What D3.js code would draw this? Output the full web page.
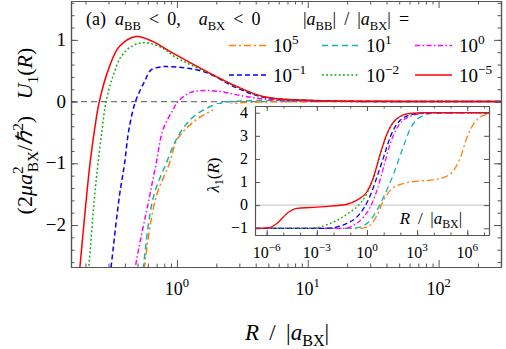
<!DOCTYPE html>
<html>
<head>
<meta charset="utf-8">
<script src="https://cdn.jsdelivr.net/npm/d3@7"></script>
<style>
  body { margin: 0; background: #fff; }
</style>
</head>
<body>
<svg id="chart" width="506" height="349"></svg>
<script>
var svg = d3.select("#chart");

// legend exponents of |a_BB| / |a_BX|, same order as the series below
var ratioExp = ["5", "1", "0", "\u22121", "\u22122", "\u22125"];

// main panel: U_1(R)
var mainR = [
  [0.54, 0.565, 0.694, 0.877, 1.0, 1.26, 1.60, 2.15, 2.88, 4.61, 10, 300],
  [0.53, 0.555, 0.662, 0.828, 1.0, 1.26, 1.60, 2.15, 3.86, 10, 300],
  [0.45, 0.482, 0.617, 0.694, 0.782, 0.932, 1.02, 1.26, 1.60, 2.15, 2.88, 4.61, 10, 20, 300],
  [0.294, 0.314, 0.363, 0.398, 0.429, 0.482, 0.565, 0.635, 0.78, 0.889, 1.60, 2.88, 4.61, 10, 20, 300],
  [0.200, 0.212, 0.2345, 0.2493, 0.2677, 0.2872, 0.3235, 0.374, 0.447, 0.565, 0.782, 0.959, 1.60, 2.88, 4.61, 10, 20, 300],
  [0.173, 0.1815, 0.2037, 0.2166, 0.2345, 0.255, 0.305, 0.363, 0.488, 0.655, 0.932, 1.60, 2.88, 4.61, 10, 20, 300]
];
var mainU = [
  [-3.2, -2.674, -1.54, -1.0, -0.62, -0.377, -0.216, -0.091, -0.026, -0.006, -0.001, 0],
  [-3.2, -2.674, -1.54, -1.0, -0.593, -0.297, -0.135, -0.026, 0.016, 0.008, 0],
  [-3.2, -2.674, -1.54, -1.0, -0.459, -0.135, 0, 0.146, 0.178, 0.162, 0.109, 0.04, 0.01, 0.003, 0],
  [-3.2, -2.674, -1.54, -1.0, -0.459, 0, 0.324, 0.514, 0.567, 0.567, 0.486, 0.22, 0.07, 0.02, 0.005, 0],
  [-3.2, -2.674, -1.54, -1.0, -0.459, 0, 0.405, 0.729, 0.891, 0.956, 0.865, 0.729, 0.50, 0.24, 0.075, 0.02, 0.005, 0],
  [-3.2, -2.674, -1.54, -1.0, -0.459, 0, 0.567, 0.891, 1.053, 0.972, 0.784, 0.514, 0.243, 0.08, 0.02, 0.005, 0]
];

// inset: lambda_1(R)
var insetR = [
  [2e-7, 0.2, 0.63, 2.0, 4.0, 10, 32, 160, 1000, 6300, 4e4, 1.6e5, 4e5, 1e6, 2.5e6, 6.3e6, 2e7],
  [2e-7, 0.126, 0.4, 1.6, 4.0, 10, 40, 126, 400, 1600, 1e4, 2e7],
  [2e-7, 0.04, 0.16, 0.63, 1.6, 4.0, 10, 25, 80, 400, 2500, 2e7],
  [2e-7, 0.004, 0.016, 0.063, 0.25, 0.63, 1.6, 4.0, 10, 25, 100, 630, 6300, 2e7],
  [2e-7, 4e-4, 1.6e-3, 6.3e-3, 0.025, 0.1, 0.32, 1, 2.5, 6.3, 16, 63, 400, 4000, 2e7],
  [2e-7, 4.1e-7, 1.3e-6, 4.1e-6, 1.6e-5, 6.5e-5, 4e-4, 6.3e-3, 0.063, 0.25, 1, 2.5, 6.3, 16, 63, 390, 3900, 2e7]
];
var insetL = [
  [-1, -1, -0.98, -0.79, -0.43, 0.22, 0.72, 0.94, 1.04, 1.08, 1.20, 1.52, 2.09, 2.96, 3.54, 3.82, 3.94],
  [-1, -1, -0.94, -0.65, -0.22, 0.36, 1.37, 2.38, 3.32, 3.82, 3.97, 4.0],
  [-1, -1, -0.87, -0.51, -0.07, 0.65, 1.66, 2.67, 3.46, 3.85, 3.97, 4.0],
  [-1, -1, -0.94, -0.79, -0.51, -0.14, 0.43, 1.23, 2.09, 2.96, 3.68, 3.94, 4.0, 4.0],
  [-1, -1, -0.94, -0.79, -0.58, -0.29, 0.0, 0.51, 1.2, 2.2, 3.08, 3.74, 3.96, 4.0, 4.0],
  [-1.0, -1.0, -0.98, -0.79, -0.36, -0.14, -0.10, -0.04, 0.04, 0.22, 0.58, 1.23, 2.24, 3.10, 3.75, 3.97, 4.0, 4.0]
];

var colors = ["#ff8000", "#14b4b4", "#ff00ff", "#0000ff", "#00b000", "#ff0000"];
var dashes = ["7,3,2,3", "6,4", "5,2.5,1.5,2.5", "5,3", "1.8,2.4", null];

var axisColor = "#555";
var serif = "'Liberation Serif'";
var sp = "\u00a0", thin = "\u2009", em = "\u2003";

// scales
var xMain = d3.scaleLog().domain([0.155, 300]).range([71, 501]);
var yMain = d3.scaleLinear().domain([-2.68, 1.63]).range([267, 1]);
var xIn = d3.scaleLog().domain([2e-7, 2e7]).range([255, 489]);
var yIn = d3.scaleLinear().domain([-1.29, 4.29]).range([235, 106]);

function addText(parent) {
  return parent.append("text").style("font-family", serif).attr("fill", "#000");
}

// text with sub/superscripts
function rich(sel, parts, fs) {
  var cur = 0;
  parts.forEach(function (p) {
    var off = p.pos === "sup" ? -0.42 * fs : p.pos === "sub" ? 0.25 * fs : 0;
    var ts = sel.append("tspan").text(p.t)
      .attr("dy", off - cur)
      .attr("font-size", p.pos ? 0.7 * fs : fs)
      .attr("font-style", p.i ? "italic" : "normal");
    if (p.dx) ts.attr("dx", p.dx);
    cur = off;
  });
  return sel;
}

function tenPow(e) {
  return [{ t: "10" }, { t: e, pos: "sup" }];
}

var defs = svg.append("defs");
defs.append("clipPath").attr("id", "clipMain").append("rect")
  .attr("x", 71).attr("y", 1).attr("width", 430).attr("height", 266);
defs.append("clipPath").attr("id", "clipIn").append("rect")
  .attr("x", 255).attr("y", 106).attr("width", 234).attr("height", 129);

// ---- main panel curves
var gMain = svg.append("g").attr("clip-path", "url(#clipMain)");

gMain.append("line")
  .attr("x1", 71).attr("x2", 501)
  .attr("y1", yMain(0)).attr("y2", yMain(0))
  .attr("stroke", "#777").attr("stroke-width", 1.4).attr("stroke-dasharray", "6,4");

var lineMain = d3.line()
  .x(function (d) { return xMain(d[0]); })
  .y(function (d) { return yMain(d[1]); })
  .curve(d3.curveCatmullRom.alpha(0.5));

mainR.forEach(function (rs, i) {
  gMain.append("path")
    .datum(d3.zip(rs, mainU[i]))
    .attr("d", lineMain)
    .attr("fill", "none")
    .attr("stroke", colors[i])
    .attr("stroke-width", 1.5)
    .attr("stroke-dasharray", dashes[i]);
});

// white box behind the inset
svg.append("rect")
  .attr("x", 213).attr("y", 104).attr("width", 286).attr("height", 157)
  .attr("fill", "#fff");

// ---- main axes
function styleAxis(g) {
  g.selectAll("path, line").attr("stroke", axisColor);
  g.selectAll("path").attr("stroke-width", 1.2);
}

var xMinor = [0.2, 0.3, 0.4, 0.5, 0.6, 0.7, 0.8, 0.9, 2, 3, 4, 5, 6, 7, 8, 9,
  20, 30, 40, 50, 60, 70, 80, 90, 200, 300];
var yMajor = [-2, -1, 0, 1];
var yMinor = d3.range(-26, 17, 2).map(function (v) { return v / 10; });

[[d3.axisBottom, 267], [d3.axisTop, 1]].forEach(function (a) {
  svg.append("g").attr("transform", "translate(0," + a[1] + ")")
    .call(a[0](xMain).tickValues(xMinor).tickSize(-3.5).tickSizeOuter(0).tickFormat(""))
    .call(styleAxis);
  svg.append("g").attr("transform", "translate(0," + a[1] + ")")
    .call(a[0](xMain).tickValues([1, 10, 100]).tickSize(-7).tickSizeOuter(0).tickFormat(""))
    .call(styleAxis);
});
[[d3.axisLeft, 71], [d3.axisRight, 501]].forEach(function (a) {
  svg.append("g").attr("transform", "translate(" + a[1] + ",0)")
    .call(a[0](yMain).tickValues(yMinor).tickSize(-3.5).tickSizeOuter(0).tickFormat(""))
    .call(styleAxis);
  svg.append("g").attr("transform", "translate(" + a[1] + ",0)")
    .call(a[0](yMain).tickValues(yMajor).tickSize(-7).tickSizeOuter(0).tickFormat(""))
    .call(styleAxis);
});

[1, 10, 100].forEach(function (v, i) {
  rich(addText(svg).attr("x", xMain(v)).attr("y", 295).attr("text-anchor", "middle"),
    tenPow(String(i)), 18);
});
yMajor.forEach(function (v) {
  addText(svg).attr("x", 66).attr("y", yMain(v) + 6)
    .attr("text-anchor", "end").attr("font-size", 19)
    .text(v < 0 ? "\u2212" + (-v) : String(v));
});

// axis titles
rich(addText(svg).attr("x", 287).attr("y", 340).attr("text-anchor", "middle"),
  [{ t: "R", i: 1 }, { t: sp + thin + "/" + sp + thin + "|" }, { t: "a", i: 1 }, { t: "BX", pos: "sub" }, { t: "|" }], 23);

rich(addText(svg).attr("transform", "translate(32,131) rotate(-90)").attr("text-anchor", "middle"),
  [{ t: "(2" }, { t: "\u03bc", i: 1 }, { t: "a", i: 1 }, { t: "2", pos: "sup" },
   { t: "BX", pos: "sub", dx: -6 }, { t: "/" }, { t: "\u210f", i: 1 }, { t: "2", pos: "sup" },
   { t: ")" + sp + sp + sp }, { t: "U", i: 1 }, { t: "1", pos: "sub" }, { t: "(" }, { t: "R", i: 1 }, { t: ")" }], 22);

// title and legend
rich(addText(svg).attr("x", 86).attr("y", 25),
  [{ t: "(a)" + sp + sp }, { t: "a", i: 1 }, { t: "BB", pos: "sub" },
   { t: sp + thin + "<" + sp + thin + "0," + em },
   { t: "a", i: 1 }, { t: "BX", pos: "sub" }, { t: sp + thin + "<" + sp + thin + "0" }], 18);

rich(addText(svg).attr("x", 303).attr("y", 25),
  [{ t: "|" }, { t: "a", i: 1 }, { t: "BB", pos: "sub" }, { t: "|" + sp + thin + "/" + sp + thin + "|" },
   { t: "a", i: 1 }, { t: "BX", pos: "sub" }, { t: "|" + sp + thin + "=" }], 18);

var legX = [229, 322, 415];
var legY = [45.5, 75];
ratioExp.forEach(function (e, i) {
  var lx = legX[i % 3], ly = legY[Math.floor(i / 3)];
  svg.append("line")
    .attr("x1", lx).attr("x2", lx + 37).attr("y1", ly).attr("y2", ly)
    .attr("stroke", colors[i]).attr("stroke-width", 1.6)
    .attr("stroke-dasharray", dashes[i]);
  rich(addText(svg).attr("x", lx + 44).attr("y", ly + 6.5), tenPow(e), 19);
});

// ---- inset
var gIn = svg.append("g");
gIn.append("line")
  .attr("x1", 255).attr("x2", 489).attr("y1", yIn(0)).attr("y2", yIn(0))
  .attr("stroke", "#ccc").attr("stroke-width", 1.2);

var lineIn = d3.line()
  .x(function (d) { return xIn(d[0]); })
  .y(function (d) { return yIn(d[1]); })
  .curve(d3.curveMonotoneX);

var gInC = gIn.append("g").attr("clip-path", "url(#clipIn)");
insetR.forEach(function (rs, i) {
  gInC.append("path")
    .datum(d3.zip(rs, insetL[i]))
    .attr("d", lineIn)
    .attr("fill", "none")
    .attr("stroke", colors[i])
    .attr("stroke-width", 1.3)
    .attr("stroke-dasharray", dashes[i]);
});

var inDec = d3.range(-6, 8).map(function (e) { return Math.pow(10, e); });
var inMajor = [1e-6, 1e-3, 1, 1e3, 1e6];
[[d3.axisBottom, 235], [d3.axisTop, 106]].forEach(function (a) {
  gIn.append("g").attr("transform", "translate(0," + a[1] + ")")
    .call(a[0](xIn).tickValues(inDec).tickSize(-2.5).tickSizeOuter(0).tickFormat(""))
    .call(styleAxis);
  gIn.append("g").attr("transform", "translate(0," + a[1] + ")")
    .call(a[0](xIn).tickValues(inMajor).tickSize(-5).tickSizeOuter(0).tickFormat(""))
    .call(styleAxis);
});
[[d3.axisLeft, 255], [d3.axisRight, 489]].forEach(function (a) {
  gIn.append("g").attr("transform", "translate(" + a[1] + ",0)")
    .call(a[0](yIn).tickValues([-1, 0, 1, 2, 3, 4]).tickSize(-5).tickSizeOuter(0).tickFormat(""))
    .call(styleAxis);
});

inMajor.forEach(function (v, i) {
  rich(addText(gIn).attr("x", xIn(v)).attr("y", 258).attr("text-anchor", "middle"),
    tenPow(["\u22126", "\u22123", "0", "3", "6"][i]), 16);
});
[-1, 0, 1, 2, 3, 4].forEach(function (v) {
  addText(gIn).attr("x", 248).attr("y", yIn(v) + 5)
    .attr("text-anchor", "end").attr("font-size", 16)
    .text(v < 0 ? "\u2212" + (-v) : String(v));
});

rich(addText(gIn).attr("transform", "translate(219,175) rotate(-90)").attr("text-anchor", "middle"),
  [{ t: "\u03bb", i: 1 }, { t: "1", pos: "sub" }, { t: "(" }, { t: "R", i: 1 }, { t: ")" }], 17);

rich(addText(gIn).attr("x", 431).attr("y", 224).attr("text-anchor", "middle"),
  [{ t: "R", i: 1 }, { t: sp + thin + "/" + sp + thin + "|" }, { t: "a", i: 1 }, { t: "BX", pos: "sub" }, { t: "|" }], 17);
</script>
</body>
</html>
